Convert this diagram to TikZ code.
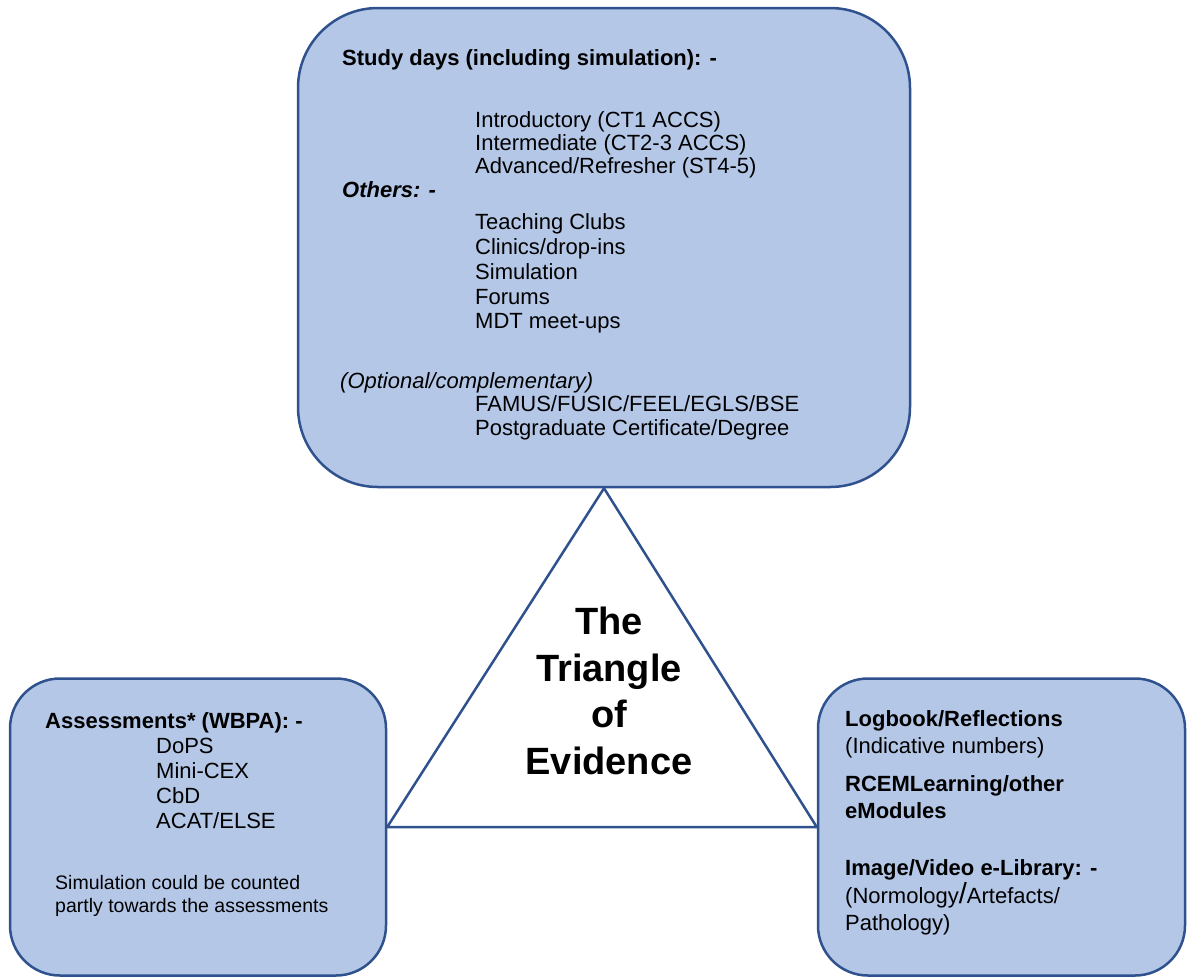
\documentclass[tikz,border=0pt]{standalone}
\usepackage{fontspec}
\setmainfont{Liberation Sans}
\definecolor{boxfill}{HTML}{B4C7E7}
\definecolor{boxline}{HTML}{2F528F}
\newcommand\myfs[2]{\fontsize{#1}{#2}\selectfont}
\begin{document}
\begin{tikzpicture}[x=1pt,y=-1pt,
  box/.style={draw=boxline,fill=boxfill,line width=2.5pt,inner sep=0pt},
  txt/.style={anchor=base west,inner sep=0pt,font=\myfs{22}{24.5}},
  small/.style={anchor=base west,inner sep=0pt,font=\myfs{19.5}{23}},
  edge/.style={draw=boxline,line width=2.5pt,line join=miter}]
\useasboundingbox (0,0) rectangle (1187,978);
% boxes
\node[box,minimum width=612pt,minimum height=479pt,rounded corners=80pt] (tb) at (604,247.5) {};
\node[box,minimum width=376pt,minimum height=297pt,rounded corners=50pt] (lb) at (198,827) {};
\node[box,minimum width=367pt,minimum height=297pt,rounded corners=50pt] (rb) at (1001.5,827) {};
% triangle
\draw[edge] (tb.south) -- (lb.east) -- (rb.west) -- cycle;
% title
\node[align=center,inner sep=0pt,font=\bfseries\myfs{38}{46.7}] (title) at (609,691) {The\\Triangle\\of\\Evidence};
% top box text
\node[txt,font=\bfseries\myfs{22}{24.5}] (sd) at (342,65) {Study days (including simulation): -};
\node[txt] (s1) at (475,127) {Introductory (CT1 ACCS)};
\node[txt] (s2) at (475,150) {Intermediate (CT2-3 ACCS)};
\node[txt] (s3) at (475,173) {Advanced/Refresher (ST4-5)};
\node[txt,font=\bfseries\itshape\myfs{22}{24.5}] (ot) at (342,197) {Others: -};
\node[txt] (o1) at (475,229) {Teaching Clubs};
\node[txt] (o2) at (475,254) {Clinics/drop-ins};
\node[txt] (o3) at (475,279) {Simulation};
\node[txt] (o4) at (475,304) {Forums};
\node[txt] (o5) at (475,328) {MDT meet-ups};
\node[txt,font=\itshape\myfs{22}{24.5}] (op) at (340,388) {(Optional/complementary)};
\node[txt] (p1) at (475,411) {FAMUS/FUSIC/FEEL/EGLS/BSE};
\node[txt] (p2) at (475,435) {Postgraduate Certificate/Degree};
% left box text
\node[txt,font=\bfseries\myfs{22}{24.5}] (as) at (45,728) {Assessments* (WBPA): -};
\node[txt] (a1) at (156,753) {DoPS};
\node[txt] (a2) at (156,778) {Mini-CEX};
\node[txt] (a3) at (156,803) {CbD};
\node[txt] (a4) at (156,828) {ACAT/ELSE};
\node[small] (n1) at (55,889) {Simulation could be counted};
\node[small] (n2) at (55,912) {partly towards the assessments};
% right box text
\node[txt,font=\bfseries\myfs{22}{24.5}] (r1) at (845,726) {Logbook/Reflections};
\node[txt] (r2) at (845,753) {(Indicative numbers)};
\node[txt,font=\bfseries\myfs{22}{24.5}] (r3) at (845,791) {RCEMLearning/other};
\node[txt,font=\bfseries\myfs{22}{24.5}] (r4) at (845,818) {eModules};
\node[txt,font=\bfseries\myfs{22}{24.5}] (r5) at (845,875) {Image/Video e-Library: -};
\node[txt] (r6) at (845,903) {(Normology{\myfs{29}{29}/}Artefacts/};
\node[txt] (r7) at (845,930) {Pathology)};
\end{tikzpicture}
\end{document}
